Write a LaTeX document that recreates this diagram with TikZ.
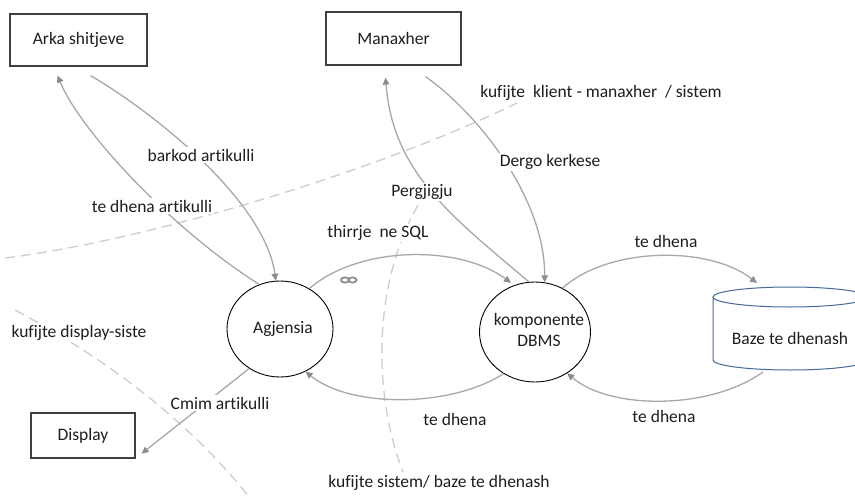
\documentclass[tikz,border=0pt]{standalone}
\usepackage{fontspec}
\setmainfont{Carlito}[Ligatures=NoCommon]
\usetikzlibrary{arrows.meta,calc,shapes.geometric}
\definecolor{linegray}{RGB}{168,168,168}
\definecolor{arrowgray}{RGB}{140,140,140}
\definecolor{dashgray}{RGB}{205,205,205}
\definecolor{boxgray}{RGB}{64,64,64}
\definecolor{txt}{RGB}{30,30,30}
\definecolor{dbblue}{RGB}{70,105,150}
\begin{document}
\begin{tikzpicture}[x=1pt,y=-1pt,
  font=\fontsize{17.5}{20}\selectfont, text=txt,
  extbox/.style={draw=boxgray, line width=1.2pt, rectangle, inner sep=0pt},
  proc/.style={draw=black, line width=0.9pt, ellipse, inner sep=0pt},
  flow/.style={draw=linegray, line width=1.3pt, -{Triangle[length=7pt,width=6.5pt,color=arrowgray]}},
  bound/.style={draw=dashgray, line width=1.3pt, dash pattern=on 10pt off 6pt},
  lbl/.style={fill=white, inner sep=1.5pt, text=txt}
]
\useasboundingbox (0,0) rectangle (855,498);
\fill[white] (0,0) rectangle (855,498);

% nodes
\node[extbox, minimum width=137pt, minimum height=52pt] (arka) at (78.5,40) {Arka shitjeve};
\node[extbox, minimum width=135pt, minimum height=53pt] (man) at (393.5,38.5) {Manaxher};
\node[extbox, minimum width=104pt, minimum height=45pt] (disp) at (83,435.5) {Display};
\node[proc, minimum width=106pt, minimum height=96pt] (ag) at (280,329) {\makebox[50pt][c]{\hspace{6pt}Agjensia}};
\node[proc, minimum width=111pt, minimum height=100pt] (dbms) at (535,332)
  {\makebox[50pt][c]{\hspace{8pt}\begin{tabular}{@{}c@{}}komponente\\[1pt]DBMS\end{tabular}}};
\node[inner sep=0pt] (db) at (790,338) {Baze te dhenash};
\begin{scope}[shift={(db.center)}]
  \draw[dbblue, line width=1pt] (0,-41) ellipse[x radius=77, y radius=10];
  \draw[dbblue, line width=1pt] (-77,-41) -- (-77,22)
    arc[start angle=180, end angle=0, x radius=77, y radius=10] -- (77,-41);
\end{scope}

% boundaries
\draw[bound] (5,258) .. controls (150,240) and (380,170) .. (517,103);
\draw[bound] (418,205) .. controls (370,290) and (375,400) .. (403,472);
\draw[bound] (15,310) .. controls (90,350) and (180,410) .. (250,498);

% flows
\draw[flow] (ag.115) .. controls (170,228) and (80,130) .. ($(arka.south)+(-21,9)$);
\draw[flow] ($(arka.south)+(12,9)$) .. controls (150,110) and (265,200) .. (ag.95);
\draw[flow, shorten >=4pt] (ag.54) .. controls (360,245) and (460,245) .. (dbms.114);
\draw[flow] (dbms.-127) .. controls (450,408) and (350,408) .. (ag.-59);
\draw[flow] (dbms.97) .. controls (450,215) and (393,172) .. ($(man.south)+(-8,12)$);
\draw[flow] ($(man.south)+(32,11)$) .. controls (480,115) and (545,200) .. (dbms.79);
\draw[flow] (dbms.58) .. controls (610,246) and (710,246) .. ($(db.center)+(-33,-55)$);
\draw[flow] ($(db.center)+(-27,34)$) .. controls (710,410) and (610,410) .. (dbms.-52);
\draw[flow] (ag.-128) -- ($(disp.south east)+(6,-5)$);

% link icon
\draw[arrowgray, line width=1.8pt] (345,280) ellipse[x radius=4, y radius=2.6] (352.5,280) ellipse[x radius=4, y radius=2.6];

% labels
\node[lbl] (l1) at (201,155) {barkod artikulli};
\node[lbl] (l2) at (152,206) {te dhena artikulli};
\node[lbl] (l3) at (422,192) {Pergjigju};
\node[lbl] (l4) at (378,233) {thirrje\ \ ne SQL};
\node[lbl] (l5) at (550,162) {Dergo kerkese};
\node[lbl] (l6) at (601,93) {kufijte\ \ klient - manaxher\ \ / sistem};
\node[lbl] (l7) at (666,241) {te dhena};
\node[lbl] (l8) at (664,416) {te dhena};
\node[lbl] (l9) at (455,419) {te dhena};
\node[lbl] (l10) at (439,483) {kufijte sistem/ baze te dhenash};
\node[lbl] (l11) at (79,333) {kufijte display-siste};
\node[lbl] (l12) at (220,403) {Cmim artikulli};
\end{tikzpicture}
\end{document}
